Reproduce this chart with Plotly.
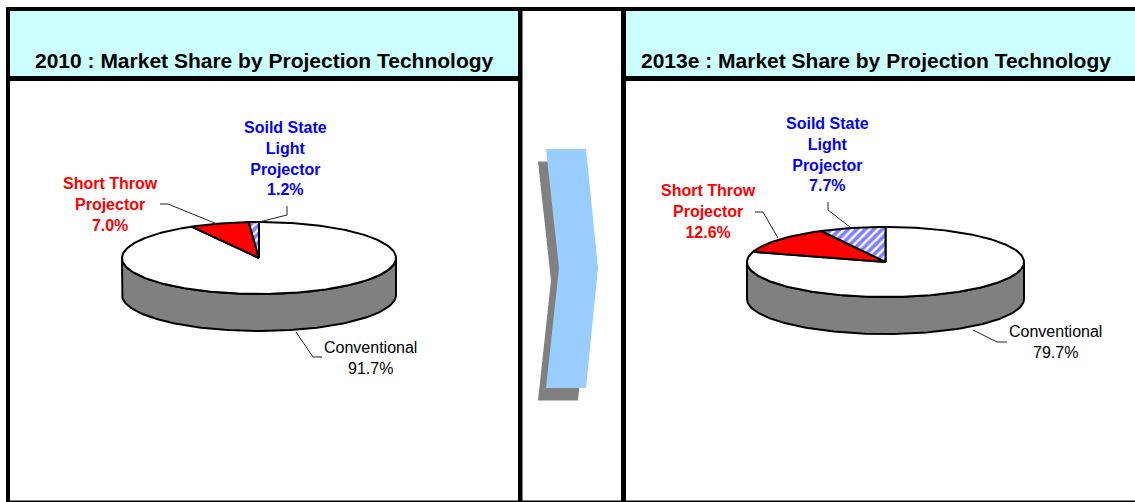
import numpy as np
import plotly.graph_objects as go

# ---- data ----
categories = ["Conventional", "Short Throw Projector", "Soild State Light Projector"]
share_2010 = [91.7, 7.0, 1.2]
share_2013 = [79.7, 12.6, 7.7]
titles = ["2010 : Market Share by Projection Technology",
          "2013e : Market Share by Projection Technology"]

W, H = 1135, 502
fig = go.Figure()

# pie geometry (pixels)
pies = [
    dict(vals=share_2010, cx=259, cy=258, rx=137, ry=36, depth=37),
    dict(vals=share_2013, cx=885.5, cy=262, rx=138.5, ry=35, depth=37),
]

def pt(p, th, dy=0.0):
    return p["cx"] + p["rx"] * np.sin(th), p["cy"] - p["ry"] * np.cos(th) + dy

for p in pies:
    # side band (front half)
    th = np.linspace(np.pi / 2, 3 * np.pi / 2, 120)
    x1, y1 = pt(p, th)
    x2, y2 = pt(p, th[::-1], p["depth"])
    fig.add_trace(go.Scatter(x=np.r_[x1, x2, x1[0]], y=np.r_[y1, y2, y1[0]],
                             mode="lines", fill="toself", fillcolor="#808080",
                             line=dict(color="black", width=2), hoverinfo="skip"))
    vals = np.array(p["vals"], float)
    frac = vals / vals.sum()
    starts = np.r_[0, np.cumsum(frac)[:-1]] * 2 * np.pi
    ends = np.cumsum(frac) * 2 * np.pi
    styles = [dict(fillcolor="white"), dict(fillcolor="#FF0000"),
              dict(fillcolor="white", fillpattern=dict(shape="/", fgcolor="#0000FF",
                                                       bgcolor="white", size=6, solidity=0.6))]
    for s, e, st in zip(starts, ends, styles):
        th = np.linspace(s, e, max(3, int((e - s) / 0.02)))
        xs, ys = pt(p, th)
        fig.add_trace(go.Scatter(x=np.r_[p["cx"], xs, p["cx"]], y=np.r_[p["cy"], ys, p["cy"]],
                                 mode="lines", fill="toself",
                                 line=dict(color="black", width=2), hoverinfo="skip", **st))

shapes = []
def rect(x0, y0, x1, y1, c):
    shapes.append(dict(type="rect", xref="x", yref="y", x0=x0, y0=y0, x1=x1, y1=y1,
                       fillcolor=c, line=dict(width=0), layer="below"))

# header backgrounds
rect(10, 11, 518, 76, "#CCFFFF")
rect(626, 11, W, 76, "#CCFFFF")
# frame lines
rect(6, 7, W, 11, "black")
rect(6, 7, 10, 502, "black")
rect(518, 7, 522.5, 502, "black")
rect(621, 7, 626, 502, "black")
rect(10, 76, 518, 81, "black")
rect(626, 76, W, 81, "black")
rect(6, 500.5, W, 502, "black")

# arrow (shadow then blue)
def arrow(dx, dy, c):
    pts = [(546, 149), (586, 149), (598, 268), (586, 388), (546, 388), (559, 268)]
    path = "M" + " L".join(f"{x+dx},{y+dy}" for x, y in pts) + " Z"
    shapes.append(dict(type="path", xref="x", yref="y", path=path, fillcolor=c,
                       line=dict(width=0), layer="below"))
arrow(-8, 12.5, "#808080")
arrow(0, 0, "#99CCFF")

# leader lines
leaders = [
    [(160, 204), (168, 204), (217, 224)],
    [(287, 206), (287, 215), (255, 223)],
    [(296, 332), (313, 357), (322, 357)],
    [(755, 212), (763, 212), (778, 238)],
    [(828, 202), (828, 210), (850, 227)],
    [(973, 330), (997, 342), (1007, 342)],
]
for L in leaders:
    path = "M" + " L".join(f"{x},{y}" for x, y in L)
    shapes.append(dict(type="path", xref="x", yref="y", path=path,
                       line=dict(color="#222222", width=1)))

FONT = "Liberation Sans, Arial, sans-serif"
ann = []
def label(x, y, text, color, bold, size=16):
    t = f"<b>{text}</b>" if bold else text
    ann.append(dict(x=x, y=y, xref="x", yref="y", text=t, showarrow=False,
                    font=dict(family=FONT, size=size, color=color),
                    xanchor="center", yanchor="middle", align="center"))

label(264.5, 60, titles[0], "black", True, 21)
label(875.5, 60, titles[1], "black", True, 21)

def pct(v):
    return f"{v:.1f}%"

label(285.5, 158.5, f"Soild State<br>Light<br>Projector<br>{pct(share_2010[2])}", "#0000FF", True)
label(110.5, 204.5, f"Short Throw<br>Projector<br>{pct(share_2010[1])}", "#FF0000", True)
label(370, 357.5, f"Conventional<br>{pct(share_2010[0])}", "black", False)
label(827.5, 154.5, f"Soild State<br>Light<br>Projector<br>{pct(share_2013[2])}", "#0000FF", True)
label(708.5, 211.5, f"Short Throw<br>Projector<br>{pct(share_2013[1])}", "#FF0000", True)
label(1055, 341.5, f"Conventional<br>{pct(share_2013[0])}", "black", False)

fig.update_layout(
    width=W, height=H, margin=dict(l=0, r=0, t=0, b=0),
    paper_bgcolor="white", plot_bgcolor="white", showlegend=False,
    xaxis=dict(range=[0, W], visible=False, fixedrange=True),
    yaxis=dict(range=[H, 0], visible=False, fixedrange=True),
    shapes=shapes, annotations=ann,
)
fig.write_html("out.html", config={"displayModeBar": False},
               post_script="document.body.style.margin='0px';document.body.style.overflow='hidden';")
